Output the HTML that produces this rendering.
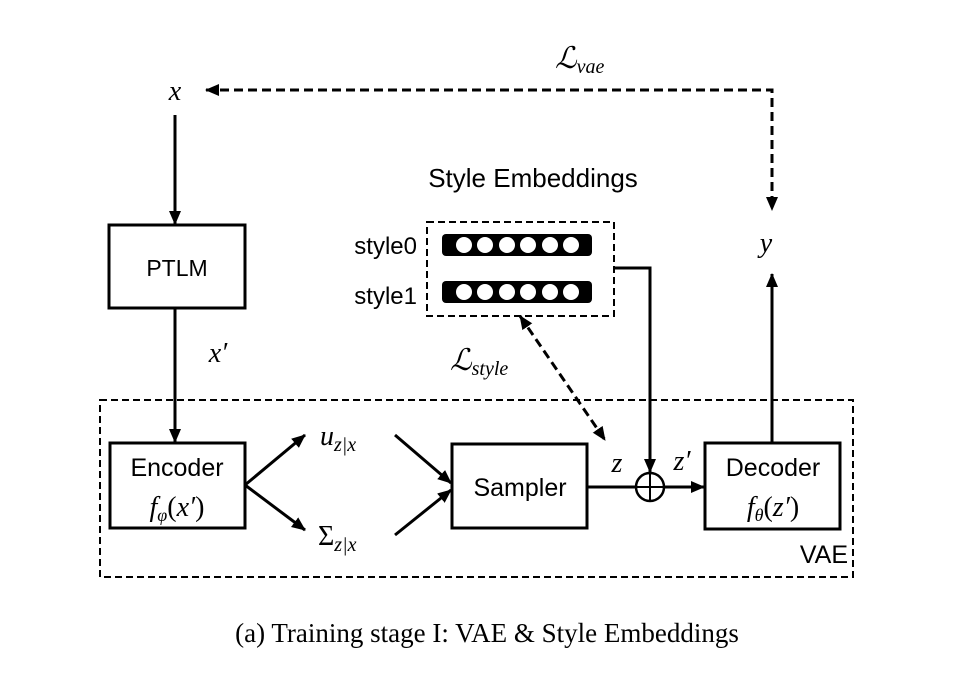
<!DOCTYPE html>
<html><head><style>body{margin:0;background:#fff}</style></head><body>
<svg width="966" height="672" viewBox="0 0 966 672" xmlns="http://www.w3.org/2000/svg">
<defs>
<marker id="b" markerWidth="14" markerHeight="14" refX="13" refY="7" orient="auto-start-reverse" markerUnits="userSpaceOnUse"><path d="M0,1 L14,7 L0,13 z" fill="#000"/></marker>
</defs>
<g stroke="#000" fill="none">
<rect x="100" y="400" width="753" height="177" stroke-width="2" stroke-dasharray="7,4"/>
<rect x="427" y="222" width="187" height="94" stroke-width="2" stroke-dasharray="7,4"/>
<rect x="109" y="225" width="136" height="83" stroke-width="3"/>
<rect x="110" y="443" width="135" height="85" stroke-width="3"/>
<rect x="452" y="444" width="135" height="84" stroke-width="3"/>
<rect x="705" y="443" width="135" height="86" stroke-width="3"/>
<line x1="175" y1="115" x2="175" y2="224" stroke-width="3" marker-end="url(#b)"/>
<line x1="175" y1="308" x2="175" y2="442" stroke-width="3" marker-end="url(#b)"/>
<line x1="245" y1="485" x2="305" y2="435" stroke-width="3" marker-end="url(#b)"/>
<line x1="245" y1="485" x2="305" y2="530" stroke-width="3" marker-end="url(#b)"/>
<line x1="395" y1="435" x2="451" y2="483" stroke-width="3" marker-end="url(#b)"/>
<line x1="395" y1="535" x2="451" y2="490" stroke-width="3" marker-end="url(#b)"/>
<line x1="587" y1="487" x2="636" y2="487" stroke-width="3"/>
<line x1="664" y1="487" x2="704" y2="487" stroke-width="3" marker-end="url(#b)"/>
<circle cx="650" cy="487" r="14" stroke-width="2.5"/>
<line x1="636" y1="487" x2="664" y2="487" stroke-width="2"/>
<line x1="650" y1="473" x2="650" y2="501" stroke-width="2"/>
<polyline points="614,268 650,268 650,472" stroke-width="3" marker-end="url(#b)"/>
<line x1="772" y1="443" x2="772" y2="274" stroke-width="3" marker-end="url(#b)"/>
<polyline points="206,90 772,90 772,210" stroke-width="3" stroke-dasharray="9,5" marker-start="url(#b)" marker-end="url(#b)"/>
<line x1="520" y1="316" x2="605" y2="440" stroke-width="3" stroke-dasharray="9,5" marker-start="url(#b)" marker-end="url(#b)"/>
</g>
<rect x="442" y="234" width="150" height="22" rx="4" fill="#000"/>
<rect x="442" y="281" width="150" height="22" rx="4" fill="#000"/>
<g fill="#fff">
<circle cx="464" cy="245" r="8"/><circle cx="485" cy="245" r="8"/><circle cx="507" cy="245" r="8"/><circle cx="528" cy="245" r="8"/><circle cx="550" cy="245" r="8"/><circle cx="571" cy="245" r="8"/>
<circle cx="464" cy="292" r="8"/><circle cx="485" cy="292" r="8"/><circle cx="507" cy="292" r="8"/><circle cx="528" cy="292" r="8"/><circle cx="550" cy="292" r="8"/><circle cx="571" cy="292" r="8"/>
</g>
<g font-family="Liberation Sans, sans-serif" fill="#000">
<text x="533" y="187" font-size="26" text-anchor="middle">Style Embeddings</text>
<text x="417" y="254" font-size="24" text-anchor="end">style0</text>
<text x="417" y="304" font-size="24" text-anchor="end">style1</text>
<text x="177" y="276" font-size="23" text-anchor="middle">PTLM</text>
<text x="177" y="476" font-size="25" text-anchor="middle">Encoder</text>
<text x="520" y="496" font-size="25" text-anchor="middle">Sampler</text>
<text x="773" y="476" font-size="25" text-anchor="middle">Decoder</text>
<text x="848" y="563" font-size="25" text-anchor="end">VAE</text>
</g>
<g font-family="Liberation Serif, serif" font-style="italic" fill="#000">
<text x="175" y="100" font-size="28" text-anchor="middle">x</text>
<text x="766" y="252" font-size="28" text-anchor="middle">y</text>
<text x="218" y="362" font-size="28" text-anchor="middle">x′</text>
<text x="177" y="516" font-size="28" text-anchor="middle">f<tspan font-size="18" dy="5">φ</tspan><tspan dy="-5" font-style="normal">(</tspan>x′<tspan font-style="normal">)</tspan></text>
<text x="773" y="516" font-size="28" text-anchor="middle">f<tspan font-size="18" dy="5">θ</tspan><tspan dy="-5" font-style="normal">(</tspan>z′<tspan font-style="normal">)</tspan></text>
<text x="320" y="445" font-size="28">u<tspan font-size="20" dy="6">z|x</tspan></text>
<text x="318" y="545" font-size="28"><tspan font-style="normal">Σ</tspan><tspan font-size="20" dy="6">z|x</tspan></text>
<text x="617" y="472" font-size="28" text-anchor="middle">z</text>
<text x="682" y="470" font-size="28" text-anchor="middle">z′</text>
<text x="555" y="68" font-size="30">ℒ<tspan font-size="20" dy="5">vae</tspan></text>
<text x="450" y="370" font-size="30">ℒ<tspan font-size="20" dy="5">style</tspan></text>
</g>
<text x="487" y="642" font-family="Liberation Serif, serif" font-size="27" text-anchor="middle">(a) Training stage I: VAE &amp; Style Embeddings</text>
</svg>
</body></html>
